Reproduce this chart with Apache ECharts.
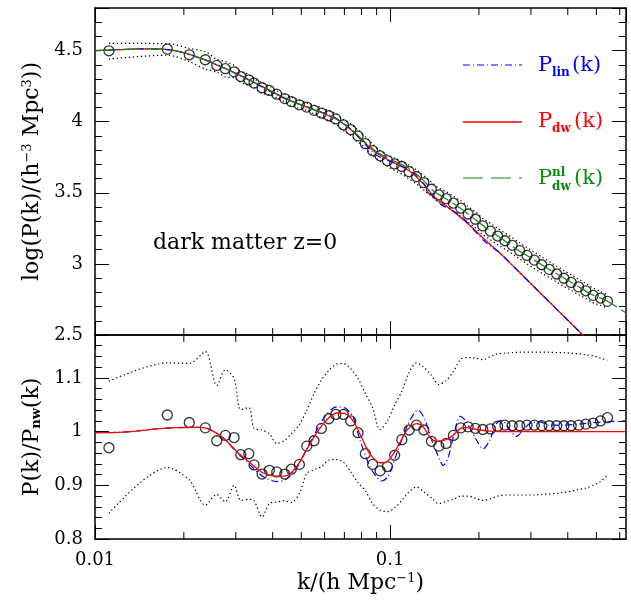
<!DOCTYPE html>
<html>
<head>
<meta charset="utf-8">
<script src="https://cdn.jsdelivr.net/npm/echarts@6/dist/echarts.min.js"></script>
<style>
  html, body { margin: 0; padding: 0; background: #fff; }
  #chart { width: 631px; height: 606px; }
</style>
</head>
<body>
<div id="chart"></div>
<script>
  // k of the measured points (circles), h/Mpc
  const kData = [0.01115, 0.01758, 0.02087, 0.02365, 0.02586, 0.02765, 0.0296, 0.03119, 0.0332, 0.0346,
    0.03682, 0.03898, 0.04129, 0.04396, 0.04628, 0.04926, 0.05219, 0.05525, 0.05849, 0.06196,
    0.06545, 0.06944, 0.07356, 0.07787, 0.08244, 0.08721, 0.09248, 0.09792, 0.1036, 0.1096,
    0.1160, 0.1228, 0.1301, 0.1380, 0.1462, 0.1548, 0.1639, 0.1736, 0.1838, 0.1946,
    0.2061, 0.2188, 0.2314, 0.2450, 0.2592, 0.2748, 0.2909, 0.3082, 0.3265, 0.3460,
    0.3668, 0.3880, 0.4107, 0.4351, 0.4606, 0.4876, 0.5162, 0.5452];

  // top panel: log P of the points and the dotted envelope
  const topData = [4.499, 4.511, 4.471, 4.436, 4.396, 4.373, 4.351, 4.318, 4.295, 4.272,
    4.239, 4.220, 4.194, 4.163, 4.142, 4.119, 4.103, 4.080, 4.061, 4.042,
    4.020, 3.978, 3.945, 3.900, 3.846, 3.797, 3.760, 3.727, 3.703, 3.685,
    3.649, 3.614, 3.572, 3.525, 3.485, 3.459, 3.427, 3.392, 3.351, 3.314,
    3.267, 3.230, 3.196, 3.163, 3.131, 3.093, 3.060, 3.027, 2.994, 2.962,
    2.929, 2.899, 2.870, 2.839, 2.811, 2.779, 2.760, 2.737];
  const topUp = [4.551, 4.550, 4.516, 4.493, 4.439, 4.423, 4.397, 4.355, 4.332, 4.302,
    4.276, 4.251, 4.218, 4.192, 4.172, 4.152, 4.132, 4.117, 4.098, 4.079,
    4.058, 4.016, 3.984, 3.942, 3.894, 3.844, 3.795, 3.765, 3.744, 3.723,
    3.693, 3.661, 3.620, 3.576, 3.534, 3.508, 3.476, 3.444, 3.403, 3.367,
    3.320, 3.285, 3.251, 3.217, 3.186, 3.148, 3.115, 3.082, 3.049, 3.017,
    2.984, 2.954, 2.924, 2.893, 2.863, 2.829, 2.807, 2.780];
  const topLo = [4.441, 4.468, 4.423, 4.369, 4.349, 4.315, 4.310, 4.278, 4.255, 4.240,
    4.200, 4.190, 4.167, 4.139, 4.112, 4.093, 4.080, 4.055, 4.029, 4.008,
    3.983, 3.939, 3.903, 3.858, 3.814, 3.762, 3.724, 3.686, 3.656, 3.632,
    3.596, 3.562, 3.519, 3.476, 3.434, 3.408, 3.372, 3.334, 3.292, 3.254,
    3.206, 3.170, 3.136, 3.103, 3.072, 3.034, 3.000, 2.967, 2.935, 2.904,
    2.872, 2.842, 2.814, 2.784, 2.757, 2.726, 2.709, 2.689];

  // bottom panel: P/Pnw of the points and the dotted envelope
  const ratioData = [0.970, 1.031, 1.017, 1.007, 0.983, 0.993, 0.989, 0.957, 0.959, 0.938,
    0.921, 0.928, 0.925, 0.921, 0.930, 0.939, 0.973, 0.983, 1.006, 1.024,
    1.032, 1.032, 1.020, 0.998, 0.959, 0.939, 0.927, 0.935, 0.956, 0.985,
    1.003, 1.012, 1.003, 0.982, 0.973, 0.978, 0.993, 1.007, 1.009, 1.006,
    1.004, 1.005, 1.010, 1.012, 1.011, 1.011, 1.012, 1.012, 1.011, 1.011,
    1.011, 1.011, 1.011, 1.012, 1.014, 1.016, 1.020, 1.026];
  const ratioUp = [1.094, 1.128, 1.127, 1.149, 1.086, 1.115, 1.099, 1.041, 1.045, 1.006,
    1.003, 0.996, 0.978, 0.984, 0.996, 1.013, 1.040, 1.071, 1.096, 1.114,
    1.125, 1.127, 1.117, 1.099, 1.071, 1.045, 1.004, 1.020, 1.050, 1.075,
    1.110, 1.128, 1.120, 1.105, 1.088, 1.095, 1.112, 1.135, 1.138, 1.137,
    1.134, 1.140, 1.145, 1.146, 1.147, 1.148, 1.148, 1.148, 1.148, 1.148,
    1.147, 1.147, 1.146, 1.145, 1.143, 1.141, 1.137, 1.133];
  const ratioLo = [0.848, 0.933, 0.910, 0.863, 0.883, 0.869, 0.900, 0.872, 0.874, 0.871,
    0.841, 0.866, 0.869, 0.871, 0.868, 0.885, 0.922, 0.929, 0.935, 0.947,
    0.948, 0.943, 0.925, 0.905, 0.890, 0.866, 0.854, 0.851, 0.858, 0.872,
    0.888, 0.897, 0.888, 0.877, 0.866, 0.870, 0.874, 0.880, 0.880, 0.876,
    0.872, 0.875, 0.880, 0.882, 0.882, 0.882, 0.882, 0.882, 0.883, 0.884,
    0.885, 0.887, 0.889, 0.892, 0.895, 0.900, 0.907, 0.919];

  // top panel model curves
  const kTop = [0.01, 0.012, 0.014, 0.016, 0.018, 0.02, 0.022, 0.024, 0.026, 0.028,
    0.03, 0.032, 0.035, 0.038, 0.041, 0.044, 0.047, 0.05, 0.054, 0.058,
    0.062, 0.066, 0.07, 0.074, 0.078, 0.082, 0.086, 0.09, 0.095, 0.1,
    0.105, 0.11, 0.115, 0.12, 0.13, 0.14, 0.15, 0.16, 0.175, 0.19,
    0.21, 0.236, 0.27, 0.306, 0.35, 0.397, 0.44, 0.48];
  const topLin = [4.500, 4.507, 4.512, 4.513, 4.505, 4.485, 4.458, 4.430, 4.398, 4.369,
    4.339, 4.311, 4.269, 4.228, 4.193, 4.162, 4.138, 4.118, 4.095, 4.072,
    4.047, 4.021, 3.985, 3.943, 3.893, 3.845, 3.800, 3.765, 3.740, 3.722,
    3.702, 3.685, 3.668, 3.640, 3.565, 3.472, 3.412, 3.385, 3.330, 3.250,
    3.155, 3.075, 2.955, 2.843, 2.723, 2.611, 2.519, 2.440];
  const topDw = [4.500, 4.507, 4.512, 4.513, 4.505, 4.485, 4.458, 4.430, 4.398, 4.369,
    4.340, 4.313, 4.272, 4.233, 4.198, 4.166, 4.140, 4.118, 4.093, 4.068,
    4.042, 4.016, 3.980, 3.940, 3.896, 3.853, 3.813, 3.780, 3.750, 3.725,
    3.703, 3.683, 3.660, 3.630, 3.560, 3.480, 3.428, 3.385, 3.320, 3.255,
    3.168, 3.075, 2.955, 2.843, 2.723, 2.611, 2.519, 2.440];
  const kNl = [0.01, 0.012, 0.014, 0.016, 0.018, 0.02, 0.022, 0.024, 0.026, 0.028,
    0.03, 0.032, 0.035, 0.038, 0.041, 0.044, 0.047, 0.05, 0.054, 0.058,
    0.062, 0.066, 0.07, 0.074, 0.078, 0.082, 0.086, 0.09, 0.095, 0.1,
    0.105, 0.11, 0.115, 0.12, 0.13, 0.14, 0.15, 0.16, 0.175, 0.19,
    0.21, 0.236, 0.27, 0.306, 0.35, 0.397, 0.44, 0.48, 0.545, 0.63];
  const topNl = [4.500, 4.507, 4.512, 4.513, 4.505, 4.485, 4.458, 4.430, 4.398, 4.369,
    4.340, 4.313, 4.272, 4.233, 4.198, 4.166, 4.140, 4.118, 4.093, 4.069,
    4.044, 4.018, 3.983, 3.944, 3.901, 3.859, 3.820, 3.788, 3.759, 3.736,
    3.716, 3.697, 3.676, 3.650, 3.586, 3.515, 3.474, 3.440, 3.384, 3.328,
    3.258, 3.185, 3.100, 3.030, 2.956, 2.888, 2.834, 2.787, 2.737, 2.656];

  // bottom panel model curves
  const blueK = [0.01, 0.01247, 0.01618, 0.01891, 0.02269, 0.02454, 0.02722, 0.0302, 0.0335, 0.0372,
    0.0413, 0.0447, 0.0483, 0.0522, 0.0564, 0.061, 0.0659, 0.0704, 0.0733, 0.0751,
    0.0791, 0.0855, 0.0900, 0.0935, 0.0983, 0.1053, 0.1139, 0.1214, 0.1246, 0.1313,
    0.1397, 0.1475, 0.1513, 0.1575, 0.1658, 0.1727, 0.1797, 0.1964, 0.2066, 0.2175,
    0.2290, 0.2380, 0.2510, 0.2680, 0.2822, 0.2972, 0.3213, 0.3475, 0.3857, 0.4515,
    0.5279, 0.63];
  const blueV = [0.998, 0.999, 1.005, 1.0075, 1.008, 1.004, 0.988, 0.962, 0.938, 0.916,
    0.907, 0.912, 0.933, 0.968, 1.003, 1.033, 1.046, 1.044, 1.035, 1.026,
    0.984, 0.934, 0.916, 0.908, 0.916, 0.959, 1.0087, 1.0366, 1.040, 1.021,
    0.978, 0.947, 0.937, 0.953, 1.0025, 1.0285, 1.021, 0.984, 0.968, 0.984,
    1.015, 1.021, 1.0087, 0.991, 1.0025, 1.015, 1.018, 1.012, 1.012, 1.015,
    1.018, 1.020];
  const redK = [0.01, 0.01247, 0.01618, 0.01891, 0.02269, 0.02454, 0.02722, 0.0302, 0.0335, 0.0372,
    0.0413, 0.0447, 0.0483, 0.0522, 0.0564, 0.061, 0.0659, 0.0704, 0.0751, 0.0802,
    0.0855, 0.0925, 0.0977, 0.1026, 0.1083, 0.1139, 0.1230, 0.1294, 0.1362, 0.1433,
    0.1530, 0.1636, 0.1727, 0.1820, 0.1964, 0.2175, 0.2542, 0.63];
  const redV = [0.998, 0.999, 1.005, 1.0074, 1.008, 1.0037, 0.988, 0.963, 0.942, 0.923,
    0.917, 0.918, 0.9355, 0.967, 0.9975, 1.022, 1.0347, 1.0335, 1.019, 0.988,
    0.958, 0.942, 0.944, 0.959, 0.981, 1.0025, 1.015, 1.009, 0.990, 0.982,
    0.984, 0.993, 1.0056, 1.0074, 1.004, 1.001, 1.0, 1.0];

  // minor tick positions on the k axis
  const minorTickK = [0.02, 0.03, 0.04, 0.05, 0.06, 0.07, 0.08, 0.09, 0.2, 0.3, 0.4, 0.5, 0.6];

  const FONT = 'DejaVu Serif';
  const BLUE = '#0000ff', RED = '#ff0000', GREEN = '#0a8a0a';
  const pairs = (xs, ys) => xs.map((x, i) => [x, ys[i]]);

  function xAxisCfg(gridIndex, position, showLabel, name) {
    return {
      type: 'log', logBase: 10, gridIndex: gridIndex, position: position,
      min: 0.01, max: 0.63,
      axisLine: { lineStyle: { color: '#000', width: 1.5 } },
      axisTick: { inside: true, length: 14, lineStyle: { color: '#000', width: 1 } },
      axisLabel: { show: showLabel, showMaxLabel: false, margin: 12, color: '#000', fontFamily: FONT, fontSize: 18 },
      splitLine: { show: false },
      name: name || '', nameLocation: 'middle', nameGap: 33,
      nameTextStyle: { color: '#000', fontFamily: FONT, fontSize: 22, rich: { sup: { fontFamily: FONT, fontSize: 13, verticalAlign: 'top' } } }
    };
  }

  function yAxisCfg(gridIndex, position, min, max, interval, split, showLabel, name) {
    return {
      type: 'value', gridIndex: gridIndex, position: position,
      min: min, max: max, interval: interval,
      axisLine: { lineStyle: { color: '#000', width: 1.5 } },
      axisTick: { inside: true, length: 14, lineStyle: { color: '#000', width: 1 } },
      minorTick: { show: true, splitNumber: split, length: 7, lineStyle: { color: '#000', width: 1 } },
      axisLabel: { show: showLabel, showMaxLabel: false, margin: 12, color: '#000', fontFamily: FONT, fontSize: 18 },
      splitLine: { show: false },
      name: name || '', nameLocation: 'middle', nameGap: 52, nameRotate: 90,
      nameTextStyle: {
        color: '#000', fontFamily: FONT, fontSize: 22,
        rich: {
          sup: { fontFamily: FONT, fontSize: 13, verticalAlign: 'top' },
          sub: { fontFamily: FONT, fontSize: 13, fontWeight: 'bold', verticalAlign: 'bottom' }
        }
      }
    };
  }

  function tickSeries(xi, yi, yRef) {
    return {
      type: 'custom', xAxisIndex: xi, yAxisIndex: yi, silent: true, z: 5,
      data: minorTickK.map(k => [k, yRef]),
      renderItem: function (params, api) {
        const cs = params.coordSys;
        const x = api.coord([api.value(0), api.value(1)])[0];
        const b = cs.y + cs.height;
        return {
          type: 'group',
          children: [
            { type: 'line', shape: { x1: x, y1: b, x2: x, y2: b - 7 }, style: { stroke: '#000', lineWidth: 1 } },
            { type: 'line', shape: { x1: x, y1: cs.y, x2: x, y2: cs.y + 7 }, style: { stroke: '#000', lineWidth: 1 } }
          ]
        };
      }
    };
  }

  const dotted = { color: '#000', width: 1.2, type: [1.3, 2.7] };
  function lineSeries(xi, yi, data, lineStyle, z) {
    return { type: 'line', xAxisIndex: xi, yAxisIndex: yi, data: data, showSymbol: false, symbol: 'none',
      smooth: 0.3, lineStyle: lineStyle, z: z || 2, silent: true, clip: true };
  }
  function circleSeries(xi, yi, data) {
    return { type: 'scatter', xAxisIndex: xi, yAxisIndex: yi, data: data, symbol: 'circle', symbolSize: 10,
      itemStyle: { color: 'rgba(0,0,0,0)', borderColor: '#000', borderWidth: 1.3 }, z: 3, silent: true };
  }

  function legendText(x, y, text, color, size, weight) {
    return { type: 'text', x: x, y: y, silent: true,
      style: { text: text, fill: color, font: (weight || 'normal') + ' ' + size + 'px "' + FONT + '"',
        align: 'left', verticalAlign: 'middle', textAlign: 'left', textVerticalAlign: 'middle' } };
  }

  const chart = echarts.init(document.getElementById('chart'), null, { renderer: 'canvas' });
  chart.setOption({
    animation: false,
    backgroundColor: '#fff',
    grid: [
      { left: 95, top: 8, width: 531, height: 327 },
      { left: 95, top: 335, width: 531, height: 204 }
    ],
    xAxis: [
      xAxisCfg(0, 'bottom', false),
      xAxisCfg(0, 'top', false),
      xAxisCfg(1, 'bottom', true, 'k/(h Mpc{sup|−1})'),
      xAxisCfg(1, 'top', false)
    ],
    yAxis: [
      yAxisCfg(0, 'left', 2.5, 4.8, 0.5, 5, true, 'log(P(k)/(h{sup|−3} Mpc{sup|3}))'),
      yAxisCfg(0, 'right', 2.5, 4.8, 0.5, 5, false),
      yAxisCfg(1, 'left', 0.8, 1.18, 0.1, 5, true, 'P(k)/P{sub|nw}(k)'),
      yAxisCfg(1, 'right', 0.8, 1.18, 0.1, 5, false)
    ],
    series: [
      // top panel
      lineSeries(0, 0, pairs(kData, topUp), dotted, 1),
      lineSeries(0, 0, pairs(kData, topLo), dotted, 1),
      circleSeries(0, 0, pairs(kData, topData)),
      lineSeries(0, 0, pairs(kTop, topDw), { color: RED, width: 1.3 }, 4),
      lineSeries(0, 0, pairs(kTop, topLin), { color: BLUE, width: 1.2, type: [7, 3, 1, 3] }, 4),
      lineSeries(0, 0, pairs(kNl, topNl), { color: GREEN, width: 1.2, type: [20, 5] }, 4),
      tickSeries(0, 0, 3),
      // bottom panel
      lineSeries(2, 2, pairs(kData, ratioUp), dotted, 1),
      lineSeries(2, 2, pairs(kData, ratioLo), dotted, 1),
      circleSeries(2, 2, pairs(kData, ratioData)),
      lineSeries(2, 2, pairs(blueK, blueV), { color: BLUE, width: 1.2, type: [7, 3, 1, 3] }, 4),
      lineSeries(2, 2, pairs(redK, redV), { color: RED, width: 1.3 }, 4),
      tickSeries(2, 2, 1)
    ],
    graphic: [
      { type: 'text', x: 153, y: 243, silent: true,
        style: { text: 'dark matter z=0', fill: '#000', font: '22px "' + FONT + '"',
          align: 'left', verticalAlign: 'middle', textAlign: 'left', textVerticalAlign: 'middle' } },
      { type: 'line', silent: true, shape: { x1: 463, y1: 65, x2: 522, y2: 65 }, style: { stroke: BLUE, lineWidth: 1.2, lineDash: [7, 3, 1, 3] } },
      { type: 'line', silent: true, shape: { x1: 463, y1: 122, x2: 522, y2: 122 }, style: { stroke: RED, lineWidth: 1.3 } },
      { type: 'line', silent: true, shape: { x1: 463, y1: 178, x2: 522, y2: 178 }, style: { stroke: GREEN, lineWidth: 1.2, lineDash: [20, 8] } },
      legendText(538, 66, 'P', BLUE, 21),
      legendText(552, 73, 'lin', BLUE, 12, 'bold'),
      legendText(572, 66, '(k)', BLUE, 21),
      legendText(538, 122, 'P', RED, 21),
      legendText(552, 129, 'dw', RED, 12, 'bold'),
      legendText(574, 122, '(k)', RED, 21),
      legendText(538, 179, 'P', GREEN, 21),
      legendText(552, 173, 'nl', GREEN, 12, 'bold'),
      legendText(552, 187, 'dw', GREEN, 12, 'bold'),
      legendText(574, 179, '(k)', GREEN, 21)
    ]
  });
</script>
</body>
</html>
